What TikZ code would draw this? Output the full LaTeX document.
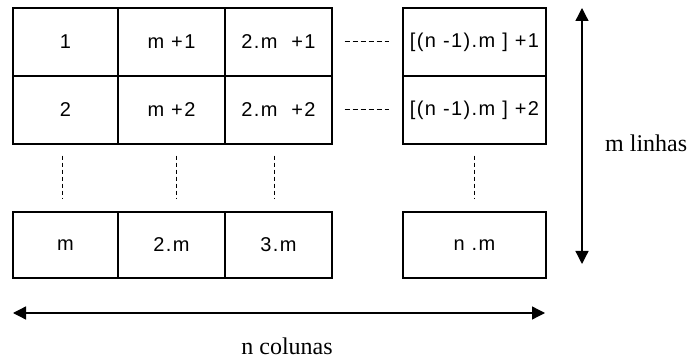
\documentclass[tikz,border=0pt]{standalone}
\usepackage{fontspec}
\setmainfont{Liberation Serif}
\newfontfamily\cellfont[LetterSpace=7]{Liberation Sans}
\usetikzlibrary{arrows.meta}

\begin{document}
\begin{tikzpicture}[x=1pt,y=-1pt,
  cell/.style={draw,line width=1.3pt,minimum width=#1pt,inner sep=0pt,font=\cellfont\fontsize{20}{22}\selectfont},
  gap/.style={line width=1pt,dash pattern=on 5pt off 3pt},
  vgap/.style={line width=1pt,dash pattern=on 4pt off 3pt},
  dim/.style={line width=1.3pt,{Triangle[length=13pt,width=13pt]}-{Triangle[length=13pt,width=13pt]}},
  lbl/.style={font=\fontsize{24}{27}\selectfont,inner sep=0pt}]
\useasboundingbox (0,0) rectangle (691,358);
% columns of the matrix
\foreach \j/\x/\w/\s/\ta/\tb/\tc in %
{1/65.5/105/-3.5/1/2/m, 2/171.5/107/4.5/m +1/m +2/2.m, 3/278.5/107/-4.5/2.m\ \ +1/2.m\ \ +2/3.m, 4/474.5/143/0/[(n -1).m ] +1/[(n -1).m ] +2/n .m} {
   \node[cell=\w,minimum height=68pt] (r1c\j) at (\x,42) {\ta};
   \node[cell=\w,minimum height=68pt] (r2c\j) at (\x,110) {\tb};
   \node[cell=\w,minimum height=66pt] (r3c\j) at (\x,245) {\tc};
   \draw[vgap,shorten <=11pt,shorten >=12pt] ([xshift=\s pt]r2c\j.south) -- ([xshift=\s pt]r3c\j.north);
}
\draw[gap,shorten <=12pt,shorten >=13pt] (r1c3.east) -- (r1c4.west);
\draw[gap,shorten <=12pt,shorten >=13pt] (r2c3.east) -- (r2c4.west);
% dimension arrows
\coordinate (vtop) at (582,8);
\coordinate (vbot) at (582,264);
\coordinate (hleft) at (13,313);
\coordinate (hright) at (545,313);
\draw[dim] (vtop) -- (vbot);
\draw[dim] (hleft) -- (hright);
\node[lbl,anchor=base west] (linhas) at (605,152) {m linhas};
\node[lbl,anchor=base] (colunas) at (287,354) {n colunas};
\end{tikzpicture}
\end{document}
